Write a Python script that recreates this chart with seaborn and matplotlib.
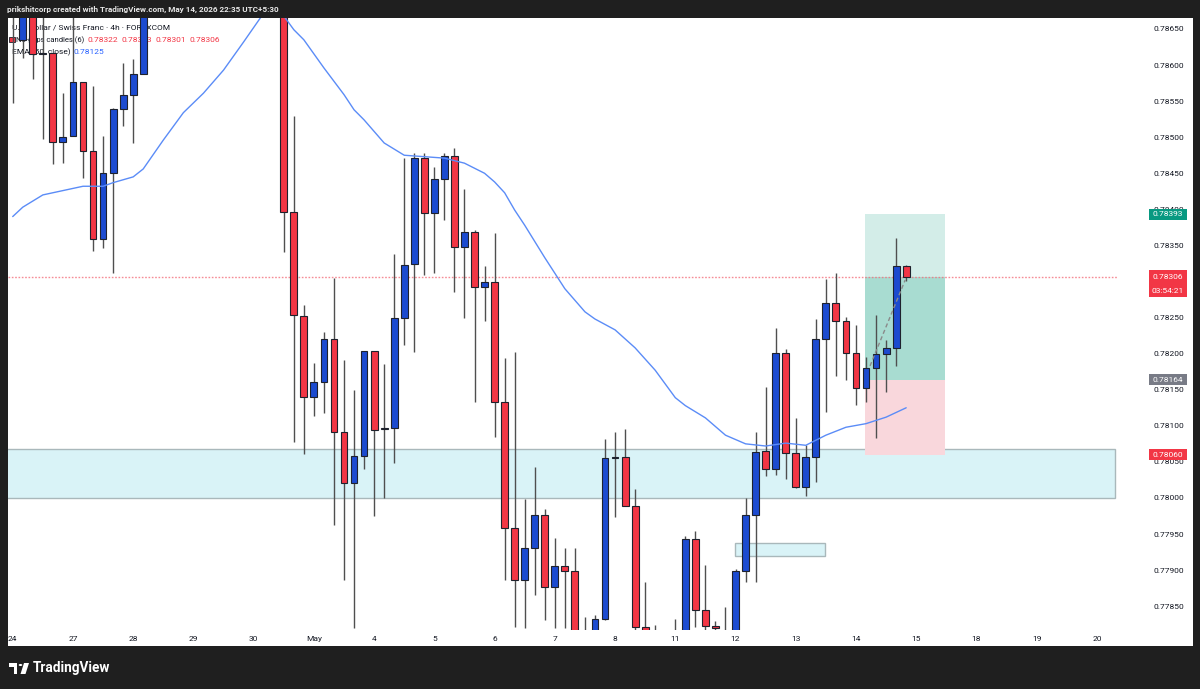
import matplotlib
matplotlib.use("Agg")
import matplotlib.pyplot as plt
import matplotlib.patches as mpatches
import matplotlib.transforms as mtransforms
import pandas as pd
import seaborn as sns

sns.set_style("white")
plt.rcParams['font.family'] = ['Roboto', 'DejaVu Sans']

# USD/CHF 4h candles, index 0 = Apr 24 first bar
# None = bar sits fully above the visible price range
opens = [0.78690, 0.78635, 0.78690, 0.78615, 0.78617, 0.78493, 0.78502, 0.78577, 0.78481, 0.78359,
         0.78450, 0.78539, 0.78559, 0.78588, None, None, None, None, None, None,
         None, None, None, None, None, None, None, 0.78700, 0.78396, 0.78252,
         0.78140, 0.78161, 0.78220, 0.78091, 0.78021, 0.78058, 0.78204, 0.78096, 0.78097, 0.78249,
         0.78324, 0.78471, 0.78395, 0.78442, 0.78474, 0.78348, 0.78369, 0.78292, 0.78299, 0.78133,
         0.77958, 0.77886, 0.77931, 0.77976, 0.77877, 0.77906, 0.77899, 0.77812, 0.77805, 0.77832,
         0.78055, 0.78057, 0.77989, 0.77821, 0.77810, 0.77805, 0.77800, 0.77805, 0.77943, 0.77845,
         0.77823, 0.77805, 0.77805, 0.77899, 0.77976, 0.78065, 0.78040, 0.78201, 0.78062, 0.78015,
         0.78057, 0.78220, 0.78270, 0.78245, 0.78201, 0.78152, 0.78180, 0.78200, 0.78208, 0.78322]
highs = [0.78700, 0.78700, 0.78700, 0.78700, 0.78617, 0.78561, 0.78700, 0.78577, 0.78571, 0.78502,
         0.78541, 0.78603, 0.78608, 0.78700, None, None, None, None, None, None,
         None, None, None, None, None, None, None, 0.78710, 0.78529, 0.78268,
         0.78187, 0.78230, 0.78305, 0.78191, 0.78150, 0.78204, 0.78204, 0.78186, 0.78338, 0.78471,
         0.78478, 0.78478, 0.78459, 0.78478, 0.78485, 0.78428, 0.78371, 0.78322, 0.78367, 0.78194,
         0.78202, 0.77999, 0.78043, 0.77985, 0.77944, 0.77931, 0.77931, 0.77835, 0.77838, 0.78082,
         0.78091, 0.78096, 0.78012, 0.77884, 0.77824, 0.77812, 0.77832, 0.77947, 0.77954, 0.77907,
         0.77830, 0.77849, 0.77902, 0.78000, 0.78091, 0.78154, 0.78236, 0.78207, 0.78111, 0.78073,
         0.78248, 0.78304, 0.78312, 0.78251, 0.78240, 0.78195, 0.78254, 0.78219, 0.78360, 0.78323]
lows = [0.78547, 0.78610, 0.78581, 0.78498, 0.78463, 0.78464, 0.78502, 0.78444, 0.78342, 0.78347,
        0.78312, 0.78516, 0.78492, 0.78588, None, None, None, None, None, None,
        None, None, None, None, None, None, None, 0.78341, 0.78078, 0.78061,
        0.78114, 0.78118, 0.77962, 0.77886, 0.77820, 0.78040, 0.77975, 0.78000, 0.78049, 0.78212,
        0.78202, 0.78309, 0.78312, 0.78385, 0.78286, 0.78249, 0.78133, 0.78245, 0.78085, 0.77886,
        0.77821, 0.77820, 0.77866, 0.77831, 0.77820, 0.77820, 0.77800, 0.77790, 0.77795, 0.77831,
        0.77974, 0.77989, 0.77805, 0.77790, 0.77780, 0.77780, 0.77770, 0.77800, 0.77821, 0.77805,
        0.77805, 0.77790, 0.77800, 0.77884, 0.77884, 0.78030, 0.78032, 0.78026, 0.78014, 0.78003,
        0.78022, 0.78119, 0.78169, 0.78164, 0.78129, 0.78133, 0.78083, 0.78147, 0.78183, 0.78301]
closes = [0.78675, 0.78680, 0.78615, 0.78617, 0.78493, 0.78500, 0.78577, 0.78481, 0.78359, 0.78450,
          0.78539, 0.78559, 0.78588, 0.78680, None, None, None, None, None, None,
          None, None, None, None, None, None, None, 0.78396, 0.78254, 0.78140,
          0.78161, 0.78220, 0.78091, 0.78021, 0.78058, 0.78204, 0.78094, 0.78097, 0.78249, 0.78323,
          0.78471, 0.78395, 0.78442, 0.78474, 0.78348, 0.78369, 0.78292, 0.78299, 0.78133, 0.77958,
          0.77886, 0.77931, 0.77976, 0.77877, 0.77906, 0.77899, 0.77810, 0.77800, 0.77832, 0.78055,
          0.78057, 0.77989, 0.77821, 0.77805, 0.77800, 0.77790, 0.77810, 0.77943, 0.77845, 0.77823,
          0.77820, 0.77800, 0.77899, 0.77976, 0.78064, 0.78040, 0.78201, 0.78062, 0.78015, 0.78057,
          0.78220, 0.78270, 0.78245, 0.78201, 0.78152, 0.78180, 0.78200, 0.78208, 0.78322, 0.78306]

# EMA(50) read at some bar indices
ema_idx = [0, 1, 3, 5, 7, 9, 10, 12, 13, 15, 17, 19, 21, 23, 25, 27, 28, 29, 31, 33, 34, 35, 37, 39,
           41, 43, 45, 47, 48, 49, 50, 51, 53, 55, 57, 58, 60, 62, 64, 66, 67, 69, 71, 73, 75, 77,
           79, 81, 83, 85, 87, 89]
ema_val = [0.78390, 0.78403, 0.78420, 0.78426, 0.78432, 0.78432, 0.78437, 0.78445, 0.78456, 0.78496,
           0.78534, 0.78561, 0.78593, 0.78632, 0.78672, 0.78668, 0.78649, 0.78635, 0.78596, 0.78559,
           0.78538, 0.78524, 0.78492, 0.78475, 0.78473, 0.78471, 0.78464, 0.78450, 0.78438, 0.78423,
           0.78399, 0.78378, 0.78333, 0.78290, 0.78258, 0.78248, 0.78233, 0.78208, 0.78177, 0.78139,
           0.78128, 0.78111, 0.78087, 0.78075, 0.78072, 0.78076, 0.78073, 0.78087, 0.78098, 0.78103,
           0.78112, 0.78125]

day_labels = ['24', '27', '28', '29', '30', 'May', '4', '5', '6', '7', '8', '11', '12', '13',
              '14', '15', '18', '19', '20']
price_ticks = [0.7785, 0.7790, 0.7795, 0.7800, 0.7805, 0.7810, 0.7815, 0.7820, 0.7825,
               0.7830, 0.7835, 0.7840, 0.7845, 0.7850, 0.7855, 0.7860, 0.7865]

last_price = 0.78306
entry, target, stop = 0.78164, 0.78393, 0.78060
zone_lo, zone_hi = 0.78000, 0.78068
small_lo, small_hi = 0.77920, 0.77938

RED = '#f23645'
BLUE = '#1c4bd0'
W, H = 1200, 689
FS = 6.0


def fx(x):
    return x / W


def fy(y):
    return 1 - y / H


fig = plt.figure(figsize=(12, 6.89), dpi=100, facecolor='#1f1f1f')
fig.patches.append(mpatches.Rectangle((fx(8), fy(646)), fx(1185), (646 - 18) / H,
                                      transform=fig.transFigure, fc='white', ec='none', zorder=-5))
ax = fig.add_axes([fx(8), fy(630), fx(1109), (630 - 18) / H])
ax.set_facecolor('none')
ax.set_xlim(-0.47, 110.0)
ax.set_ylim(0.778170, 0.786652)

df = pd.DataFrame({'o': opens, 'h': highs, 'l': lows, 'c': closes}, dtype=float)
df['i'] = range(len(df))
df = df.dropna()
df['lo'] = df[['o', 'c']].min(axis=1)
df['body'] = (df['c'] - df['o']).abs().clip(lower=0.000012)
colors = [BLUE if c >= o else RED for o, c in zip(df['o'], df['c'])]

# zones
ax.add_patch(mpatches.Rectangle((-1, zone_lo), 110.8, zone_hi - zone_lo, fc='#d9f3f7',
                                ec='#a9b8bb', lw=1, zorder=1))
ax.add_patch(mpatches.Rectangle((71.9, small_lo), 9.0, small_hi - small_lo, fc='#d9f3f7',
                                ec='#a9b8bb', lw=1, zorder=1))
# long position tool
px0, pw = 84.9, 8.0
ax.add_patch(mpatches.Rectangle((px0, entry), pw, target - entry, fc='#d3ede8', ec='none', zorder=1))
ax.add_patch(mpatches.Rectangle((px0, entry), pw, last_price - entry, fc='#a8dcd1', ec='none', zorder=1.1))
ax.add_patch(mpatches.Rectangle((px0, stop), pw, entry - stop, fc='#f9d7dc', ec='none', zorder=1))

ax.axhline(last_price, color='#f4707c', lw=1.0, ls=(0, (1.2, 1.2)), alpha=0.8, zorder=2)

ax.vlines(df['i'], df['l'], df['h'], color='#4f4f4f', lw=1.0, zorder=3)
ax.bar(df['i'], df['body'], bottom=df['lo'], width=0.68, color=colors,
       edgecolor='#1e222d', linewidth=0.8, zorder=4)

sns.lineplot(x=ema_idx, y=ema_val, ax=ax, color='#5b8cf7', lw=1.0, zorder=5)
ax.plot([85.4, 88.9], [0.78183, 0.78302], color='#8a8a8a', lw=1, ls=(0, (3, 2)), zorder=6)

for s in ax.spines.values():
    s.set_visible(False)
ax.set_xticks(range(0, 109, 6))
ax.set_xticklabels(day_labels)
ax.yaxis.tick_right()
ax.set_yticks(price_ticks)
ax.set_yticklabels(['%.5f' % p for p in price_ticks])
ax.tick_params(axis='x', length=0, pad=4, labelsize=FS, labelcolor='#131722')
ax.tick_params(axis='y', length=0, pad=26.5, labelsize=FS, labelcolor='#131722')

# price badges on the right scale
bt = mtransforms.blended_transform_factory(ax.transAxes, ax.transData)
bx0, bw = (1149 - 8) / 1109, 38 / 1109
ph = 11 / 72150


def badge(price, txt, fc, top=None, bottom=None):
    if top is None:
        top, bottom = price + ph / 2, price - ph / 2
    ax.add_patch(mpatches.Rectangle((bx0, bottom), bw, top - bottom, transform=bt, fc=fc,
                                    ec='none', clip_on=False, zorder=10))
    ax.text(bx0 + bw / 2, price, txt, transform=bt, color='white', fontsize=FS,
            ha='center', va='center', clip_on=False, zorder=11)


badge(target, '%.5f' % target, '#089981')
badge(last_price, '%.5f' % last_price, RED, top=0.783160, bottom=0.782786)
ax.text(bx0 + bw / 2, 0.782875, '03:54:21', transform=bt, color='white', fontsize=FS,
        ha='center', va='center', clip_on=False, zorder=11)
badge(entry, '%.5f' % entry, '#787b86')
badge(stop, '%.5f' % stop, RED)

# legend (drawn behind candles)
lg = dict(transform=fig.transFigure, va='center', zorder=0.5)
ax.text(fx(12), fy(28), 'U.S. Dollar / Swiss Franc · 4h · FOREXCOM', color='#131722', fontsize=FS, **lg)
ax.add_patch(mpatches.Rectangle((fx(9), fy(42)), fx(6), 5 / H, transform=fig.transFigure,
                                fc=RED, ec='#1e222d', lw=0.6, zorder=0.5))
ax.text(fx(16), fy(40), 'No-gaps candles (6)', color='#131722', fontsize=5.5, **lg)
for xpos, v in zip([88, 122, 156, 189], ['0.78322', '0.78323', '0.78301', '0.78306']):
    ax.text(fx(xpos), fy(40), v, color=RED, fontsize=FS, **lg)
ax.text(fx(12), fy(52), 'EMA (50, close)', color='#131722', fontsize=FS, **lg)
ax.text(fx(73), fy(52), '0.78125', color='#2962ff', fontsize=FS, **lg)

# header and footer
fig.text(fx(7), fy(9), 'prikshitcorp created with TradingView.com, May 14, 2026 22:35 UTC+5:30',
         color='#e8e8e8', fontsize=5.9, fontweight='bold', va='center')
logo = [
    mpatches.Rectangle((fx(9), fy(666.5)), fx(8), 3.5 / H),
    mpatches.Rectangle((fx(13.5), fy(674)), fx(3.5), 11 / H),
    mpatches.Circle((fx(20.5), fy(665)), 1.8 / W),
    mpatches.Polygon([(fx(24), fy(663)), (fx(29), fy(663)), (fx(25.5), fy(674)), (fx(20.5), fy(674))]),
]
for p in logo:
    p.set_transform(fig.transFigure)
    p.set_facecolor('white')
    p.set_edgecolor('none')
    fig.patches.append(p)
fig.text(fx(33), fy(668), 'TradingView', color='white', fontsize=9.8, fontweight='bold', va='center')

fig.savefig('out.png', dpi=100, facecolor=fig.get_facecolor())
